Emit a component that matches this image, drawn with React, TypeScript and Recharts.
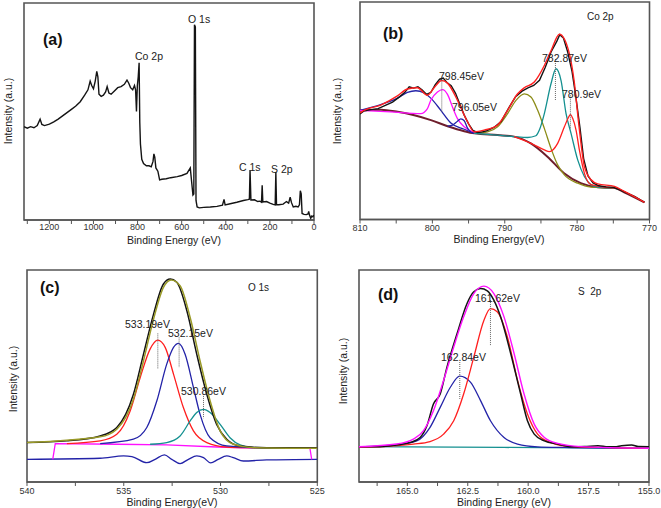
import React from 'react';
import { LineChart, Line, XAxis, YAxis, ReferenceArea } from 'recharts';

const FONT = '"Liberation Sans", Arial, Helvetica, sans-serif';

// ---------- Panel (a): survey ----------
const aDomain = [0, 1315];
const aTicks = [0, 100, 200, 300, 400, 500, 600, 700, 800, 900, 1000, 1100, 1200, 1300];
const aTickLabels = { '0': '0', '200': '200', '400': '400', '600': '600', '800': '800', '1000': '1000', '1200': '1200' };
const aSurvey = [[1315,43],[1300,42.3],[1285,43],[1270,42.5],[1255,43.5],[1242,46.5],[1234,44],[1222,43.5],[1200,44.2],[1180,45.2],[1160,46.5],[1140,48],[1120,49.5],[1100,51],[1080,52.5],[1060,54.5],[1040,57.5],[1025,60],[1015,64],[1008,62],[1000,60.5],[992,64],[985,68.5],[980,66],[975,58],[965,57],[955,57.5],[945,59],[938,61.5],[930,58.5],[920,58],[905,59.5],[890,61],[875,61.5],[860,62.5],[848,64.5],[840,63],[832,61],[822,60],[814,62],[809,60],[805,50],[801,62],[797,66],[793,72.5],[790,45],[787,35],[781,28],[773,26],[760,25],[748,25],[738,24.5],[730,27],[726,30.5],[722,29],[717,24],[708,22.5],[700,18.5],[690,18.8],[670,19],[650,19.5],[620,20],[600,20.5],[576,21.5],[561,24],[549,11.5],[545,12],[542,90],[538,89],[535,9],[530,6],[520,5.6],[500,5.8],[470,6],[440,6.3],[415,6.8],[408,9.5],[403,7],[380,7.5],[350,8.2],[320,9],[300,9.4],[293,9.6],[290,23],[286,9.2],[270,9.3],[255,8.5],[245,8.7],[238,8.2],[235,16],[232,8.3],[215,8.5],[200,7.8],[185,7.2],[176,7],[173,22],[170,7],[160,7],[140,7.3],[125,8.5],[115,7.8],[108,10.5],[102,8],[94,6],[82,6.3],[72,6],[66,7],[62,13.5],[58,12],[54,3],[45,2.6],[35,2.5],[27,2.8],[24,4],[21,2.5],[15,0.8],[10,1.8],[5,1.5],[0,2.3]];

// ---------- Panel (b): Co 2p ----------
const bDomain = [770, 810];
const bTicks = [770, 775, 780, 785, 790, 795, 800, 805, 810];
const bTickLabels = { '770': '770', '780': '780', '790': '790', '800': '800', '810': '810' };
const bBackground = [[810,50.2],[807.1,50.5],[804.8,49.5],[802.5,47.9],[800.2,45.7],[797.9,42.9],[795.6,40.6],[794.2,39.6],[791,38.8],[788.7,38.1],[786.4,35],[784.1,28.9],[781.8,21.3],[779.5,16.7],[777.1,14.8],[774.8,14.5],[773.5,12.5],[770.7,7.9]];
const bEnvelope = [[810,49.0],[809.45,50.2],[807.14,52.6],[804.83,56.8],[803.45,60.0],[802.06,60.6],[800.68,57.1],[799.76,60.6],[798.7,63.9],[797.91,62.7],[796.53,54.8],[795.14,44.9],[794.22,40.3],[792.84,41.1],[790.99,43.4],[789.61,50.2],[788.22,57.8],[787.3,60.6],[785.92,63.2],[784.53,70.8],[783.61,77.6],[782.45,85.2],[781.76,83.0],[780.42,63.9],[779.73,42.6],[779.0,24.4],[778.07,18.3],[777.15,16.4],[774.84,15.2],[773.46,12.9],[770.69,7.9]];
const bRaw = [[810,48.5],[809.5,49.8],[808.5,50.5],[807.5,51],[806.5,52.5],[805.5,54],[804.5,56.5],[803.8,58.5],[803.2,61],[802.6,60.4],[802,61],[801.4,59.5],[800.8,57.5],[800.2,58.5],[799.6,62],[799,64.5],[798.5,65],[798,63],[797.4,61.5],[796.8,58],[796.2,53],[795.6,48],[795,44],[794.4,41],[793.8,40],[793.2,40.2],[792.5,40.8],[791.5,42.3],[790.5,45],[789.5,51],[788.5,56.5],[787.6,59],[786.8,60.5],[786,61.6],[785.2,64],[784.4,70],[783.6,77],[782.8,82],[782.4,85],[781.9,83.5],[781.3,77],[780.7,68],[780.2,57],[779.6,42],[779.1,28],[778.5,20],[777.8,16.8],[777,15.5],[776,15],[775,14.8],[774,13.5],[773,12],[772,10.5],[771,8.5],[770.7,8]];
const bPeak8035 = [[810,50.2],[807.14,52.8],[804.83,55.8],[803.45,58.4],[802.29,59.2],[801.14,58.2],[800.22,55.8],[798.83,50.2],[797.45,44.4],[795.6,41.5],[794.22,39.6]];
const bPeak79845 = [[810,50.2],[805.76,49.5],[801.6,48.7],[800.68,51.0],[800.22,54.8],[799.3,58.6],[798.6,59.7],[797.91,57.5],[797.22,51.7],[796.53,46.4],[795.6,42.6],[794.45,40.3],[793.76,39.6]];
const bPeak79605 = [[797.9,42.9],[797.22,43.4],[796.53,45.2],[796.07,46.3],[795.6,45.4],[795.14,42.0],[794.68,40.2],[794.0,39.6]];
const bPeak787 = [[794.22,39.6],[792.37,40.3],[790.99,42.6],[789.61,48.7],[788.45,54.8],[787.3,57.8],[786.38,56.3],[785.45,50.2],[784.53,41.9],[783.61,32.7],[782.69,25.1],[781.76,20.5],[779.92,16.7],[778.07,14.9],[774.84,14.5]];
const bPeak78287 = [[794.22,39.6],[790.99,38.8],[788.68,38.1],[786.84,37.7],[785.7,38.5],[785.22,41.1],[784.53,48.7],[783.61,62.4],[782.92,69.3],[782.22,63.9],[781.53,48.7],[780.84,39.6],[779.92,27.4],[779.0,19.8],[778.07,16.0],[777.15,14.9],[774.84,14.5]];
const bPeak7809 = [[788.68,38.1],[786.38,35.0],[784.53,32.0],[783.84,31.2],[782.69,35.0],[781.76,42.6],[781.2,46.9],[780.93,48.2],[780.6,46.4],[780.15,41.1],[779.69,32.0],[779.0,21.3],[778.07,16.0],[774.84,14.5]];
const bMarkers = [[[798.7,63.9],[798.7,49.5]], [[783.0,73.8],[783.0,54.8]], [[780.93,57.1],[780.93,41.9]]];

// ---------- Panel (c): O 1s ----------
const cDomain = [525, 540];
const cTicks = [525, 527.5, 530, 532.5, 535, 537.5, 540];
const cTickLabels = { '525': '525', '530': '530', '535': '535', '540': '540' };
const cRaw = [[540,18.6],[537.94,19.4],[536.22,21.7],[535.36,25.7],[534.5,41.4],[533.98,60.3],[533.46,79.2],[532.95,93.4],[532.6,95.7],[532.26,94.2],[531.74,80.8],[531.23,60.3],[530.71,41.4],[530.2,27.2],[529.68,20.2],[528.99,17.0],[527.62,16.2],[525,16.2]];
const cEnvelope = [[540,18.6],[536.22,21.3],[535.36,24.9],[534.5,39.1],[533.98,57.2],[533.46,76.9],[532.95,91.8],[532.55,95.3],[532.09,92.6],[531.57,77.6],[531.06,57.2],[530.54,38.3],[530.02,24.1],[529.34,17.8],[528.3,16.2],[525,15.9]];
const cPeak53319 = [[537.94,18.1],[536.22,19.4],[535.36,22.5],[534.67,33.5],[534.15,49.3],[533.64,62.7],[533.24,66.9],[532.86,63.5],[532.43,50.9],[531.92,35.1],[531.4,24.1],[530.71,18.6],[529.68,16.5],[528.3,16.2],[525.38,15.9]];
const cPeak53215 = [[536.22,18.1],[534.5,20.2],[533.81,25.7],[533.29,38.3],[532.78,55.6],[532.43,63.5],[532.17,65.4],[531.83,60.3],[531.4,44.6],[531.06,32.0],[530.54,20.9],[529.68,17.0],[528.3,16.2],[525.38,15.9]];
const cPeak53086 = [[533.64,17.8],[532.78,18.6],[532.09,21.7],[531.57,28.8],[531.23,32.8],[530.88,34.3],[530.54,32.8],[530.02,27.2],[529.51,20.9],[528.99,17.5],[528.3,16.2],[525.38,15.9]];
const cBaseline = [[538.67,10.7],[538.54,18.1],[535.36,17.8],[532.78,17.5],[530.2,16.5],[528.3,16.0],[525.38,15.9],[525.29,10.7]];
const cResidual = [[540,10.7],[536.22,11.2],[535.01,12.3],[534.58,12.0],[533.81,9.1],[533.38,10.7],[532.9,12.8],[532.52,10.7],[532.09,8.7],[531.66,10.7],[531.23,12.3],[530.88,11.5],[530.51,9.0],[530.12,10.7],[529.68,12.3],[529.34,11.5],[528.82,9.9],[527.62,10.4],[525,10.7]];
const cMarkers = [[[533.24,70.1],[533.24,53.2]], [[532.14,68.2],[532.14,54.0]], [[530.88,40.6],[530.88,30.1]]];

// ---------- Panel (d): S 2p ----------
const dDomain = [155, 167];
const dTicks = [155, 156.25, 157.5, 158.75, 160, 161.25, 162.5, 163.75, 165, 166.25];
const dTickLabels = { '155': '155.0', '157.5': '157.5', '160': '160.0', '162.5': '162.5', '165': '165.0' };
const dRaw = [[167,16.6],[166.14,16.6],[165.44,17.5],[164.89,18.6],[164.47,21.0],[164.19,26.5],[163.92,36.8],[163.64,41.5],[163.36,54.2],[162.94,70.0],[162.53,84.2],[162.25,89.7],[161.97,91.3],[161.69,90.2],[161.42,85.8],[161.14,77.9],[160.72,60.5],[160.31,41.5],[160.03,28.9],[159.75,22.6],[159.33,19.4],[158.78,17.9],[158.22,16.6],[157.67,16.7],[157.11,17.1],[156.69,16.6],[156.42,16.6],[156.14,17.1],[155.72,17.5],[155.44,16.7],[154.96,16.6]];
const dEnvelope = [[167,16.6],[165.44,17.9],[164.75,20.2],[164.33,24.2],[163.92,33.6],[163.5,47.9],[163.08,63.7],[162.67,77.9],[162.25,88.9],[161.83,92.4],[161.42,88.9],[161.0,77.9],[160.58,60.5],[160.17,41.5],[159.75,27.3],[159.33,21.0],[158.78,18.2],[157.81,16.7],[154.96,15.9]];
const dPeak16162 = [[167,16.3],[164.75,17.9],[164.06,19.1],[163.5,22.6],[163.08,28.9],[162.67,41.5],[162.25,58.9],[161.83,76.3],[161.56,81.8],[161.28,80.3],[160.86,68.4],[160.44,47.9],[160.03,32.1],[159.61,22.6],[159.06,18.6],[158.22,16.7],[157.11,16.3],[154.96,15.9]];
const dPeak16284 = [[167,16.6],[165.44,17.5],[164.61,19.4],[164.06,25.8],[163.64,35.2],[163.22,44.7],[162.83,49.9],[162.39,47.1],[161.97,38.4],[161.56,28.9],[161.0,21.0],[160.44,17.9],[159.61,16.6],[158.5,16.3],[154.96,15.9]];
const dBaseline = [[167,16.7],[161,16.3],[154.96,15.9]];
const dMarkers = [[[161.56,85.8],[161.56,64.5]], [[162.83,56.6],[162.83,39.2]]];

const toPts = (arr) => arr.map(([x, y]) => ({ x, y }));

function Panel({ box, domain, ticks, labels, tickMargin, series }) {
  const [L, T, R, B] = box;
  const padL = 24, padR = 24, padT = 4, axisH = 30;
  return (
    <div style={{ position: 'absolute', left: L - padL, top: T - padT }}>
      <LineChart
        width={R - L + padL + padR}
        height={B - T + padT + axisH}
        margin={{ top: padT, left: padL, right: padR, bottom: 0 }}
      >
        <XAxis
          type="number"
          dataKey="x"
          domain={domain}
          reversed
          allowDataOverflow
          ticks={ticks}
          interval={0}
          tickFormatter={(v) => labels[String(v)] ?? ''}
          height={axisH}
          tickSize={4}
          tickMargin={tickMargin}
          axisLine={{ stroke: '#555', strokeWidth: 1.6 }}
          tickLine={{ stroke: '#555', strokeWidth: 1 }}
          tick={{ fontSize: 9, fill: '#333', fontFamily: FONT }}
        />
        <YAxis type="number" domain={[0, 100]} hide allowDataOverflow />
        <ReferenceArea x1={domain[0]} x2={domain[1]} y1={0} y2={100} fill="none" fillOpacity={0} stroke="#555" strokeWidth={1.6} ifOverflow="visible" />
        {series.map((s, i) => (
          <Line
            key={i}
            data={toPts(s.data)}
            dataKey="y"
            stroke={s.color}
            strokeWidth={s.width ?? 1.3}
            strokeDasharray={s.dash}
            type={s.smooth ? 'monotone' : 'linear'}
            dot={false}
            activeDot={false}
            isAnimationActive={false}
          />
        ))}
      </LineChart>
    </div>
  );
}

const BLACK = '#141414';
const RED = '#ff1f1f';
const NAVY = '#2323a8';
const MAGENTA = '#ff10ff';
const OLIVE = '#8c8c18';
const TEAL = '#149090';
const BROWN = '#6e1e2c';
const DOT = '#666';

const mk = (markers) => markers.map((m) => ({ data: m, color: DOT, width: 1, dash: '1 1' }));

export default function App() {
  const t = { fontFamily: FONT, fill: '#222' };
  return (
    <div style={{ position: 'absolute', left: 0, top: 0, width: 661, height: 508, background: '#fff', overflow: 'hidden' }}>
      <Panel
        box={[24, 3, 314, 220]}
        domain={aDomain}
        ticks={aTicks}
        labels={aTickLabels}
        tickMargin={0}
        series={[{ data: aSurvey, color: BLACK, width: 1.4 }]}
      />
      <Panel
        box={[359.5, 2, 649, 219.5]}
        domain={bDomain}
        ticks={bTicks}
        labels={bTickLabels}
        tickMargin={1}
        series={[
          { data: bBackground, color: BROWN, width: 2, smooth: true },
          { data: bPeak8035, color: NAVY, smooth: true },
          { data: bPeak79845, color: MAGENTA, smooth: true },
          { data: bPeak79605, color: NAVY, smooth: true },
          { data: bPeak787, color: OLIVE, smooth: true },
          { data: bPeak78287, color: TEAL, smooth: true },
          { data: bPeak7809, color: RED, smooth: true },
          { data: bRaw, color: BLACK, width: 1.4 },
          { data: bEnvelope, color: RED, width: 1.4, smooth: true },
          ...mk(bMarkers),
        ]}
      />
      <Panel
        box={[26.7, 270, 317, 482]}
        domain={cDomain}
        ticks={cTicks}
        labels={cTickLabels}
        tickMargin={2}
        series={[
          { data: cResidual, color: NAVY, smooth: true },
          { data: cBaseline, color: MAGENTA },
          { data: cPeak53319, color: RED, smooth: true },
          { data: cPeak53215, color: NAVY, smooth: true },
          { data: cPeak53086, color: TEAL, smooth: true },
          { data: cRaw, color: BLACK, width: 1.5, smooth: true },
          { data: cEnvelope, color: '#9a9a28', width: 1.5, smooth: true },
          ...mk(cMarkers),
        ]}
      />
      <Panel
        box={[359, 270, 649, 482]}
        domain={dDomain}
        ticks={dTicks}
        labels={dTickLabels}
        tickMargin={2}
        series={[
          { data: dBaseline, color: TEAL },
          { data: dPeak16284, color: NAVY, smooth: true },
          { data: dPeak16162, color: RED, smooth: true },
          { data: dRaw, color: BLACK, width: 1.5, smooth: true },
          { data: dEnvelope, color: MAGENTA, width: 1.4, smooth: true },
          ...mk(dMarkers),
        ]}
      />
      <svg width={661} height={508} style={{ position: 'absolute', left: 0, top: 0, pointerEvents: 'none' }}>
        <text {...t} fontSize={10.5} x={174} y={240} textAnchor="middle" dominantBaseline="central">Binding Energy (eV)</text>
        <text {...t} fontSize={10.5} x={499} y={239} textAnchor="middle" dominantBaseline="central">Binding Energy(eV)</text>
        <text {...t} fontSize={10.5} x={172} y={502} textAnchor="middle" dominantBaseline="central">Binding Energy(eV)</text>
        <text {...t} fontSize={10.5} x={504} y={502} textAnchor="middle" dominantBaseline="central">Binding Energy (eV)</text>
        <text {...t} fontSize={10.5} x={8} y={111} textAnchor="middle" dominantBaseline="central" transform="rotate(-90 8 111)">Intensity (a.u.)</text>
        <text {...t} fontSize={10.5} x={337} y={111} textAnchor="middle" dominantBaseline="central" transform="rotate(-90 337 111)">Intensity (a.u.)</text>
        <text {...t} fontSize={10.5} x={13} y={379} textAnchor="middle" dominantBaseline="central" transform="rotate(-90 13 379)">Intensity (a.u.)</text>
        <text {...t} fontSize={10.5} x={343} y={371} textAnchor="middle" dominantBaseline="central" transform="rotate(-90 343 371)">Intensity (a.u.)</text>
        <text {...t} fill="#111" fontSize={16} fontWeight="bold" x={43} y={39} dominantBaseline="central">(a)</text>
        <text {...t} fill="#111" fontSize={16} fontWeight="bold" x={383} y={33} dominantBaseline="central">(b)</text>
        <text {...t} fill="#111" fontSize={16} fontWeight="bold" x={40} y={287} dominantBaseline="central">(c)</text>
        <text {...t} fill="#111" fontSize={16} fontWeight="bold" x={378} y={294} dominantBaseline="central">(d)</text>
        <text {...t} fontSize={10.5} x={135} y={56} dominantBaseline="central">Co 2p</text>
        <text {...t} fontSize={10.5} x={188} y={19} dominantBaseline="central">O 1s</text>
        <text {...t} fontSize={10.5} x={239} y={167} dominantBaseline="central">C 1s</text>
        <text {...t} fontSize={10.5} x={271} y={169} dominantBaseline="central">S 2p</text>
        <text {...t} fontSize={10} x={587} y={16} dominantBaseline="central">Co 2p</text>
        <text {...t} fontSize={10.5} x={439} y={76} dominantBaseline="central">798.45eV</text>
        <text {...t} fontSize={10.5} x={452} y={107} dominantBaseline="central">796.05eV</text>
        <text {...t} fontSize={10.5} x={542} y={58} dominantBaseline="central">782.87eV</text>
        <text {...t} fontSize={10.5} x={562} y={94} dominantBaseline="central">780.9eV</text>
        <text {...t} fontSize={10} x={248} y={287} dominantBaseline="central">O 1s</text>
        <text {...t} fontSize={10.5} x={125} y={324} dominantBaseline="central">533.19eV</text>
        <text {...t} fontSize={10.5} x={168} y={333} dominantBaseline="central">532.15eV</text>
        <text {...t} fontSize={10.5} x={181} y={391} dominantBaseline="central">530.86eV</text>
        <text {...t} fontSize={10} x={578} y={291} dominantBaseline="central" style={{ whiteSpace: 'pre' }}>S  2p</text>
        <text {...t} fontSize={10.5} x={475} y={298} dominantBaseline="central">161.62eV</text>
        <text {...t} fontSize={10.5} x={441} y={357} dominantBaseline="central">162.84eV</text>
      </svg>
    </div>
  );
}
